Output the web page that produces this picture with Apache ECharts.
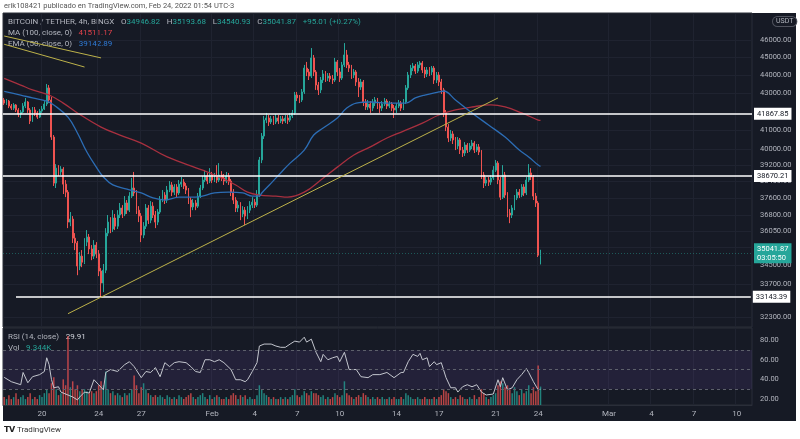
<!DOCTYPE html>
<html>
<head>
<meta charset="utf-8">
<script src="https://cdn.jsdelivr.net/npm/echarts@6/dist/echarts.min.js"></script>
<style>
html,body{margin:0;padding:0;background:#fff;}
#chart{width:800px;height:439px;}
</style>
</head>
<body>
<div id="chart"></div>
<script>
// BTC/USDT 4h candles: [open, close, low, high]
var candles = [
  [42610,42440,42340,42720],[42440,42550,42340,42660],[42550,42280,42170,42610],[42280,42170,42070,42390],
  [42170,42340,42070,42440],[42340,42070,41960,42390],[42070,41850,41690,42170],[41850,41960,41640,42070],
  [41960,42280,41910,42440],[42280,42500,42170,42720],[42500,42070,41910,42550],[42070,41480,41320,42170],
  [41480,42070,41430,42230],[42070,41910,41750,42230],[41910,41690,41590,42010],[41690,42010,41640,42120],
  [42010,42120,41910,42280],[42120,42390,42070,42550],[42390,43270,42280,43490],[43270,42610,42440,43430],
  [42610,40640,40490,42770],[40640,38320,38180,40745],[38320,39060,38080,39260],[39060,38870,38670,39210],
  [38870,39010,38720,39160],[39010,38270,37790,39110],[38270,37880,37640,38470],[37880,36460,36180,37980],
  [36460,36600,36270,36930],[36600,35720,35500,36740],[35720,35500,35180,35950],[35500,34470,34070,35590],
  [34470,34910,34290,35090],[34910,34640,34420,35180],[34640,35540,34560,35720],[35540,35770,35360,36090],
  [35770,35230,35000,35910],[35230,34910,34730,35405],[34910,35405,34780,35630],[35405,35000,34820,35540],
  [35000,34250,34030,35180],[34250,33730,33130,34380],[33730,34290,33340,34560],[34290,35950,34160,36180],
  [35950,36460,35810,36790],[36460,36140,35950,36690],[36140,36650,36000,37020],[36650,36270,36090,36840],
  [36270,36790,36140,37020],[36790,37120,36650,37360],[37120,36840,36650,37260],[36840,37360,36740,37690],
  [37360,37020,36840,37500],[37020,37690,36930,37880],[37690,38080,37600,38570],[38080,37840,37690,38870],
  [37840,37020,36840,37980],[37020,36740,36460,37210],[36740,35860,35540,36880],[35860,36270,35720,36460],
  [36270,37120,36140,37310],[37120,36550,36370,37260],[36550,37210,36410,37450],[37210,36790,36650,37400],
  [36790,36460,36180,36980],[36460,36930,36320,37070],[36930,37500,36840,37690],[37500,37740,37400,37980],
  [37740,37500,37310,37880],[37500,37980,37360,38180],[37980,38230,37880,38420],[38230,37880,37690,38370],
  [37880,38130,37740,38270],[38130,37840,37640,38270],[37840,38270,37740,38470],[38270,38370,38130,38620],
  [38370,38180,38030,38520],[38180,37980,37790,38320],[37980,37500,37310,38080],[37500,37170,36690,37640],
  [37170,37360,37020,37550],[37360,37210,37020,37500],[37210,37690,37120,37840],[37690,38080,37600,38230],
  [38080,38470,37980,38670],[38470,38670,38370,38960],[38670,38420,38270,38820],[38420,38720,38320,39060],
  [38720,38470,38320,38870],[38470,38670,38370,38820],[38670,38470,38320,39210],[38470,38720,38370,39310],
  [38720,38570,38420,38910],[38570,38420,38230,38770],[38420,38670,38320,38870],[38670,38420,38230,38820],
  [38420,37880,37690,38520],[37880,37500,37310,38030],[37500,37120,36930,37640],[37120,37260,36930,37450],
  [37260,36840,36550,37400],[36840,37020,36690,37210],[37020,36740,36320,37170],[36740,37020,36600,37210],
  [37020,37260,36880,37450],[37260,37400,37120,37640],[37400,37260,37120,37550],[37260,37740,37170,37980],
  [37740,39470,37640,39620],[39470,40690,39310,40850],[40690,41530,40540,41750],[41530,41640,41370,41910],
  [41640,41430,41220,41800],[41430,41590,41320,41750],[41590,41430,41270,41750],[41430,41640,41320,41850],
  [41640,41480,41320,41800],[41480,41590,41370,41750],[41590,41480,41320,41750],[41480,41640,41370,41800],
  [41640,41530,41320,41800],[41530,41750,41430,41910],[41750,41910,41640,42070],[41910,42880,41800,43050],
  [42880,42720,42550,43050],[42720,42610,42440,42880],[42610,43050,42500,43210],[43050,44380,42940,44560],
  [44380,44160,43930,44730],[44160,43930,43710,44330],[43930,44960,43820,45530],[44960,44160,43930,45130],
  [44160,43430,43160,44270],[43430,43160,42880,43600],[43160,43710,42990,43880],[43710,44050,43540,44270],
  [44050,43820,43600,44210],[43820,43930,43650,44100],[43930,43770,43600,44100],[43770,43710,43490,43990],
  [43710,44730,43600,44960],[44730,44160,43930,44840],[44160,43820,43600,44380],[43820,44560,43710,44730],
  [44560,45130,44440,45820],[45130,44560,44380,45420],[44560,44380,44160,44730],[44380,43990,43770,44560],
  [43990,44160,43820,44330],[44160,43600,43380,44270],[43600,43320,42770,43820],[43320,43600,43160,43770],
  [43600,42500,42280,43710],[42500,42230,42070,42660],[42230,42390,42070,42610],[42390,42170,41910,42550],
  [42170,42440,42010,42660],[42440,42610,42280,42770],[42610,42280,42120,42720],[42280,42170,41910,42440],
  [42170,42390,42010,42550],[42390,42550,42280,42720],[42550,42280,42120,42660],[42280,42390,42170,42550],
  [42390,42170,42010,42500],[42170,42070,41640,42340],[42070,42280,41910,42440],[42280,42440,42170,42610],
  [42440,42170,42010,42550],[42170,42500,42070,42660],[42500,43270,42390,43430],[43270,43990,43160,44160],
  [43990,44380,43820,44560],[44380,44500,44210,44670],[44500,44210,44050,44610],[44210,44560,44100,44730],
  [44560,44670,44380,44780],[44670,44270,44100,44780],[44270,44050,43820,44440],[44050,44270,43880,44440],
  [44270,44160,43930,44440],[44160,44380,43990,44500],[44380,43710,43490,44500],[43710,43990,43540,44160],
  [43990,43600,43380,44160],[43600,43160,42940,43770],[43160,41910,41690,43270],[41910,41160,40950,42070],
  [41160,40590,40380,41320],[40590,40800,40430,41010],[40800,40490,40280,40950],[40490,40180,39970,40640],
  [40180,40490,40020,40640],[40490,39970,39770,40590],[39970,39820,39620,40130],[39820,40230,39670,40380],
  [40230,39970,39820,40330],[39970,40180,39870,40330],[40180,40330,40020,40490],[40330,39970,39820,40430],
  [39970,40130,39870,40280],[40130,39870,39720,40280],[39870,38720,38520,39970],[38720,38320,38080,38870],
  [38320,38470,38180,38620],[38470,38370,38180,38620],[38370,38570,38230,38720],[38570,38960,38470,39160],
  [38960,39310,38870,39470],[39310,38470,38270,39410],[38470,37640,37500,38620],[37640,38720,37550,39210],
  [38720,37740,37600,38870],[37740,36880,36690,37880],[36880,36790,36410,37070],[36790,37120,36650,37260],
  [37120,37600,37020,37740],[37600,37880,37500,38030],[37880,37740,37600,38030],[37740,38130,37640,38270],
  [38130,37840,37690,38270],[37840,38470,37740,38620],[38470,38820,38370,39260],[38820,38620,38470,39060],
  [38620,37690,37500,38720],[37690,37360,37170,37840],[37360,34950,34870,37450],[34946.82,35041.87,34540.93,35193.68]
];
// volume in thousands
var volumes = [
  4,3,5,3,4,6,3,4,5,3,4,6,3,4,3,5,4,6,8,6,
  11,14,8,5,6,13,10,35,9,12,8,10,7,8,8,7,6,7,6,7,
  10,12,10,17,8,6,7,5,6,5,4,6,5,6,8,15,10,6,9,11,
  8,6,5,4,5,4,5,4,3,5,4,3,4,3,5,4,3,4,5,6,
  4,3,4,5,6,4,3,5,3,4,5,4,3,3,4,3,5,6,5,3,
  5,4,5,3,4,3,3,5,10,8,6,5,4,3,4,3,3,4,3,4,
  3,4,5,8,5,4,5,7,6,5,7,6,6,5,4,5,3,4,3,4,
  6,5,4,5,12,6,5,4,3,4,5,4,6,5,4,3,4,3,4,3,
  4,3,3,4,3,4,3,3,4,3,6,5,4,3,3,4,3,3,4,3,
  3,3,4,3,4,5,8,7,6,4,3,4,3,5,4,3,3,4,3,5,
  3,4,8,6,4,3,4,5,6,10,12,11,9,10,8,6,9,7,5,8,
  6,7,10,6,9,7,20,9.344
];
// [candle index, value]
var ma100 = [[0,43800],[7,43430],[12,43160],[19,42880],[25,42440],[31,41910],[41,41160],[49,40745],[58,40330],
  [69,39620],[84,38960],[92,38570],[98,38230],[103,37880],[108,37740],[115,37690],[120,37640],[127,37880],
  [134,38470],[141,39110],[148,39720],[155,40130],[162,40590],[169,40950],[177,41370],[184,41800],[191,42070],
  [198,42230],[206,42340],[212,42230],[219,41910],[226,41530],[227,41511.17]];
var ema50 = [[0,43080],[7,42880],[12,42720],[18,42550],[21,42340],[27,41690],[31,40850],[35,39870],[39,39110],
  [42,38620],[46,38230],[52,38030],[58,37840],[63,37600],[68,37500],[74,37640],[81,37640],[89,37840],[95,37880],
  [101,37840],[105,37690],[108,37690],[109,37840],[113,38320],[117,38820],[121,39310],[127,39970],[131,40745],
  [135,41110],[141,41640],[145,42170],[149,42440],[155,42500],[163,42440],[170,42440],[174,42720],[178,42880],
  [184,43050],[186,43100],[191,42610],[198,41910],[205,41270],[212,40640],[218,39970],[222,39620],[226,39210],
  [227,39142.89]];
var rsi = [[0,42],[3,37.6],[7,34.5],[8,47],[10,36.5],[12,42.7],[15,44.8],[17,48],[18,62],[19,55],[20,40],[21,31.4],
  [23,32.4],[24,27],[27,24],[29,22],[31,19],[32,22],[34,27],[36,26],[38,39.6],[40,34.5],[42,29.3],[43,47],[45,50],
  [48,48],[51,55],[53,58],[55,53],[58,41.7],[60,48],[62,47],[64,52],[66,42.7],[68,57],[70,53],[72,57],[74,58],
  [77,57],[79,53],[81,48],[83,47],[85,60],[87,60],[89,58],[91,60],[93,57],[96,50],[98,39.6],[100,39.6],[102,37.6],
  [103,39.6],[105,48],[107,57],[108,74],[110,76],[113,76],[115,74],[117,72.7],[119,72.7],[121,76],[123,79],[125,78],
  [127,83],[128,78],[130,81],[132,67.6],[134,58],[135,65.5],[137,60],[139,62],[141,63.4],[142,58],[144,67.6],
  [146,50],[149,50],[151,42.7],[154,41.7],[156,44.8],[159,44.8],[162,47],[165,41.7],[168,47],[169,47],[171,58],
  [173,65.5],[175,63.4],[176,66.5],[177,60],[179,62],[180,53],[182,58],[183,55],[185,57],[187,41.7],[189,31.4],
  [191,31.4],[192,27],[194,32.4],[196,34.5],[198,32.4],[200,34.5],[202,27],[204,24],[207,25],[209,39.6],[210,32.4],
  [211,41.7],[213,29.3],[215,31.4],[217,39.6],[219,44.8],[221,51],[222,47],[224,37.6],[226,29.3],[227,29.91]];

var priceTicks = [46000,45000,44000,43000,41000,40000,39200,38400,37600,36800,36050,35300,34500,33700,32300];
var rsiTicks = [80,60,40,20];
var rsiBands = [70,50,30];
var dayTicks = {'01-20 00':'20','01-24 00':'24','01-27 00':'27','02-01 00':'Feb','02-04 00':'4','02-07 00':'7',
  '02-10 00':'10','02-14 00':'14','02-17 00':'17','02-21 00':'21','02-24 00':'24','03-01 00':'Mar',
  '03-04 00':'4','03-07 00':'7','03-10 00':'10'};
var levels = [41867.85, 38670.21];
var lowLevel = 33143.39;
var lastPrice = 35041.87;
var trendLines = [
  [[27,32436],[208.7,42720]],
  [[0,46235],[40.5,44960]],
  [[0,45750],[34.2,44440]]
];

// 4h slots from Jan 17 08:00 to Mar 11
var categories = [];
for (var i = 0; i < 317; i++) {
  var d = new Date(Date.UTC(2022, 0, 17, 8) + i * 4 * 3600 * 1000);
  var p = function (n) { return (n < 10 ? '0' : '') + n; };
  categories.push(p(d.getUTCMonth() + 1) + '-' + p(d.getUTCDate()) + ' ' + p(d.getUTCHours()));
}
function isDayTick(idx, val) { return dayTicks[val] !== undefined; }

var UP = '#26a69a', DOWN = '#ef5350', BG = '#161a25', GRID = '#1f2330', TXT = '#b2b5be';
var FONT = 'Roboto';
var whiteLabel = { show: true, position: 'end', distance: 2, backgroundColor: '#ffffff', color: '#131722',
  fontSize: 7.5, padding: [2, 3], fontFamily: FONT };

var myChart = echarts.init(document.getElementById('chart'));
var option = {
  backgroundColor: '#ffffff',
  animation: false,
  textStyle: { fontFamily: FONT },
  graphic: [
    { type: 'rect', z: -10, shape: { x: 3, y: 13, width: 793, height: 408 }, style: { fill: BG } },
    { type: 'text', left: 4, top: 2, style: { text: 'erik108421 publicado en TradingView.com, Feb 24, 2022 01:54 UTC-3', fill: '#555', font: '7.5px ' + FONT } },
    { type: 'text', left: 4, top: 426, style: { text: '{b|𝗧𝗩} TradingView', rich: { b: { fill: '#222', fontSize: 8, fontWeight: 'bold' } }, fill: '#333', font: '8px ' + FONT } },
    { type: 'text', left: 8, top: 16, style: {
        text: '{t|BITCOIN / TETHER, 4h, BINGX}  {t|O}{v|34946.82}  {t|H}{v|35193.68}  {t|L}{v|34540.93}  {t|C}{v|35041.87}  {v|+95.01 (+0.27%)}',
        rich: { t: { fill: TXT, fontSize: 8, fontFamily: FONT }, v: { fill: UP, fontSize: 8, fontFamily: FONT } } } },
    { type: 'text', left: 8, top: 27, style: { text: '{t|MA (100, close, 0)}  {v|41511.17}',
        rich: { t: { fill: TXT, fontSize: 8, fontFamily: FONT }, v: { fill: '#e0424b', fontSize: 8, fontFamily: FONT } } } },
    { type: 'text', left: 8, top: 38, style: { text: '{t|EMA (50, close, 0)}  {v|39142.89}',
        rich: { t: { fill: TXT, fontSize: 8, fontFamily: FONT }, v: { fill: '#2f7bd6', fontSize: 8, fontFamily: FONT } } } },
    { type: 'text', left: 8, top: 331, style: { text: '{t|RSI (14, close)}  {w|29.91}',
        rich: { t: { fill: TXT, fontSize: 8, fontFamily: FONT }, w: { fill: '#d1d4dc', fontSize: 8, fontFamily: FONT } } } },
    { type: 'text', left: 8, top: 342, style: { text: '{t|Vol}  {v|9.344K}',
        rich: { t: { fill: TXT, fontSize: 8, fontFamily: FONT }, v: { fill: UP, fontSize: 8, fontFamily: FONT } } } },
    { type: 'text', left: 772, top: 16, style: { text: 'USDT', fill: TXT, font: '7px ' + FONT,
        backgroundColor: BG, borderColor: '#50535e', borderWidth: 1, borderRadius: 5, padding: [1, 3] } }
  ],
  grid: [
    { left: 3, width: 749, top: 13, height: 314, show: true, borderColor: '#2a2e39', borderWidth: 1 },
    { left: 3, width: 749, top: 328, height: 77, show: true, borderColor: '#2a2e39', borderWidth: 1 }
  ],
  xAxis: [
    { type: 'category', gridIndex: 0, data: categories, boundaryGap: true,
      axisLine: { show: false }, axisTick: { show: false }, axisLabel: { show: false },
      splitLine: { show: true, interval: isDayTick, lineStyle: { color: GRID, width: 1 } } },
    { type: 'category', gridIndex: 1, data: categories, boundaryGap: true,
      axisLine: { show: true, lineStyle: { color: '#2a2e39' } }, axisTick: { show: false },
      axisLabel: { show: true, interval: isDayTick, color: TXT, fontSize: 8, margin: 5,
        formatter: function (v) { return dayTicks[v]; } },
      splitLine: { show: true, interval: isDayTick, lineStyle: { color: GRID, width: 1 } } }
  ],
  yAxis: [
    { type: 'log', logBase: 10, gridIndex: 0, position: 'right', min: 31890, max: 47613,
      axisLine: { show: false },
      axisTick: { show: false, customValues: priceTicks },
      axisLabel: { show: true, customValues: priceTicks, color: TXT, fontSize: 7.5, margin: 8,
        formatter: function (v) { return v.toFixed(2); } },
      splitLine: { show: true, lineStyle: { color: GRID, width: 1 } } },
    { type: 'value', gridIndex: 1, position: 'right', min: 13.8, max: 92.4,
      axisLine: { show: false },
      axisTick: { show: false, customValues: rsiTicks },
      axisLabel: { show: true, customValues: rsiTicks, color: TXT, fontSize: 7.5, margin: 8,
        formatter: function (v) { return v.toFixed(2); } },
      splitLine: { show: false } },
    { type: 'value', gridIndex: 1, min: 0, max: 39, show: false }
  ],
  series: [
    { type: 'bar', xAxisIndex: 1, yAxisIndex: 2, barWidth: 1.5,
      data: volumes.map(function (v, i) {
        return { value: v, itemStyle: { color: candles[i][1] >= candles[i][0] ? 'rgba(38,166,154,0.75)' : 'rgba(239,83,80,0.75)' } };
      }) },
    { type: 'line', xAxisIndex: 1, yAxisIndex: 1, data: rsi, symbol: 'none',
      lineStyle: { color: '#c3c6ce', width: 1 },
      markArea: { silent: true, itemStyle: { color: 'rgba(126,87,194,0.13)' },
        data: [[{ yAxis: rsiBands[0] }, { yAxis: rsiBands[2] }]] },
      markLine: { silent: true, symbol: 'none', label: { show: false },
        lineStyle: { color: '#5d606b', type: [3, 3], width: 1 },
        data: rsiBands.map(function (v) { return { yAxis: v }; }) } },
    { type: 'line', xAxisIndex: 0, yAxisIndex: 0, data: ma100, symbol: 'none', smooth: 0.4,
      lineStyle: { color: '#a8303f', width: 1.3 } },
    { type: 'line', xAxisIndex: 0, yAxisIndex: 0, data: ema50, symbol: 'none', smooth: 0.4,
      lineStyle: { color: '#2c6db5', width: 1.3 } },
    { type: 'candlestick', xAxisIndex: 0, yAxisIndex: 0, data: candles, barWidth: 1.4,
      itemStyle: { color: UP, color0: DOWN, borderColor: UP, borderColor0: DOWN, borderWidth: 1 },
      markLine: { silent: true, symbol: 'none', z: 10,
        data: [
          { yAxis: lastPrice, lineStyle: { color: 'rgba(38,166,154,0.45)', type: [1, 2], width: 1 },
            label: { show: true, position: 'end', distance: 2, formatter: lastPrice.toFixed(2) + '\n03:05:50',
              backgroundColor: UP, color: '#fff', fontSize: 7.5, lineHeight: 9, padding: [1, 3], fontFamily: FONT } }
        ].concat(levels.map(function (v) {
          return { yAxis: v, lineStyle: { color: '#ffffff', type: 'solid', width: 1.6 },
            label: Object.assign({ formatter: v.toFixed(2) }, whiteLabel) };
        })).concat([
          [ { coord: [5, lowLevel], lineStyle: { color: '#ffffff', type: 'solid', width: 1.6 },
              label: Object.assign({ formatter: lowLevel.toFixed(2) }, whiteLabel) },
            { coord: [316, lowLevel] } ]
        ]).concat(trendLines.map(function (t) {
          return [ { coord: t[0], lineStyle: { color: '#bdb24a', type: 'solid', width: 1 }, label: { show: false } },
                   { coord: t[1] } ];
        }))
      } }
  ]
};
myChart.setOption(option);
window.addEventListener('resize', function () { myChart.resize(); });
</script>
</body>
</html>
